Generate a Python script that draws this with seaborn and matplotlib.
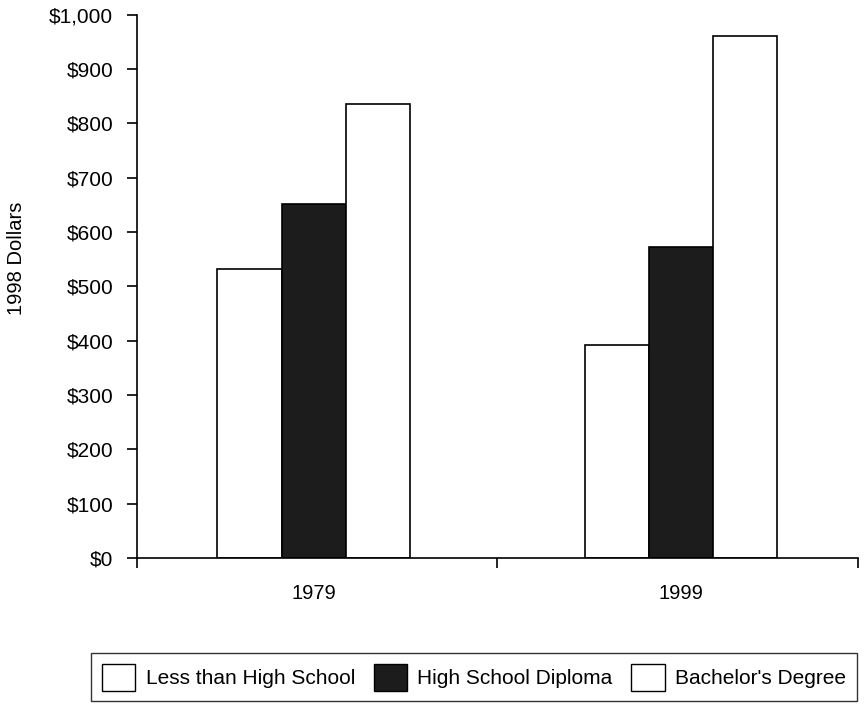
import numpy as np
import pandas as pd
import seaborn as sns
import matplotlib.pyplot as plt
from matplotlib.ticker import FuncFormatter, FixedLocator
from matplotlib.patches import Patch

years = ["1979", "1999"]
education = ["Less than High School", "High School Diploma", "Bachelor's Degree"]
less_than_hs = [532, 392]
hs_diploma = [652, 573]
bachelors = [836, 961]
bar_colors = ["white", "#1c1c1c", "white"]

df = pd.DataFrame({
    "Year": years * 3,
    "Education": [e for e in education for _ in years],
    "Dollars": less_than_hs + hs_diploma + bachelors,
})

sns.set_style("white")
plt.rcParams['font.family'] = ['Liberation Sans', 'DejaVu Sans']
plt.rcParams['text.color'] = 'black'
plt.rcParams['axes.labelcolor'] = 'black'
plt.rcParams['xtick.color'] = 'black'
plt.rcParams['ytick.color'] = 'black'

fig = plt.figure(figsize=(8.65, 7.07), dpi=100)
ax = fig.add_axes([0.158, 0.211, 0.834, 0.768])

sns.barplot(data=df, x="Year", y="Dollars", hue="Education", hue_order=education,
            palette=bar_colors, width=0.525, edgecolor="black", linewidth=1.2,
            saturation=1, legend=False, ax=ax)

ax.set_xlim(-0.482, 1.482)
ax.set_ylim(0, 1000)
ax.set_yticks(np.arange(0, 1001, 100))
ax.yaxis.set_major_formatter(FuncFormatter(lambda v, p: f"${v:,.0f}"))
ax.set_ylabel("1998 Dollars", fontsize=14.5)
ax.yaxis.set_label_coords(-0.154, 0.552)
ax.set_xlabel("")

# category boundary ticks on x, labels without tick marks
ax.xaxis.set_minor_locator(FixedLocator([-0.482, 0.5, 1.482]))
ax.tick_params(axis="x", which="major", length=0, pad=19, labelsize=14.5)
ax.tick_params(axis="x", which="minor", length=7, width=1.2, direction="out", bottom=True)
ax.tick_params(axis="y", length=7, width=1.2, direction="out", left=True, labelsize=15, pad=10)

for side in ["top", "right"]:
    ax.spines[side].set_visible(False)
for side in ["left", "bottom"]:
    ax.spines[side].set_color("black")
    ax.spines[side].set_linewidth(1.2)

handles = [Patch(facecolor=c, edgecolor="black", linewidth=1) for c in bar_colors]
leg = fig.legend(handles, education, ncol=3, loc="center",
                 bbox_to_anchor=(0.548, 0.042), fontsize=15, frameon=True,
                 fancybox=False, edgecolor="black", handlelength=1.6, handleheight=1.65,
                 columnspacing=0.9, handletextpad=0.5, borderpad=0.5, borderaxespad=0)
leg.get_frame().set_linewidth(1.0)

fig.savefig("out.png", dpi=100)
